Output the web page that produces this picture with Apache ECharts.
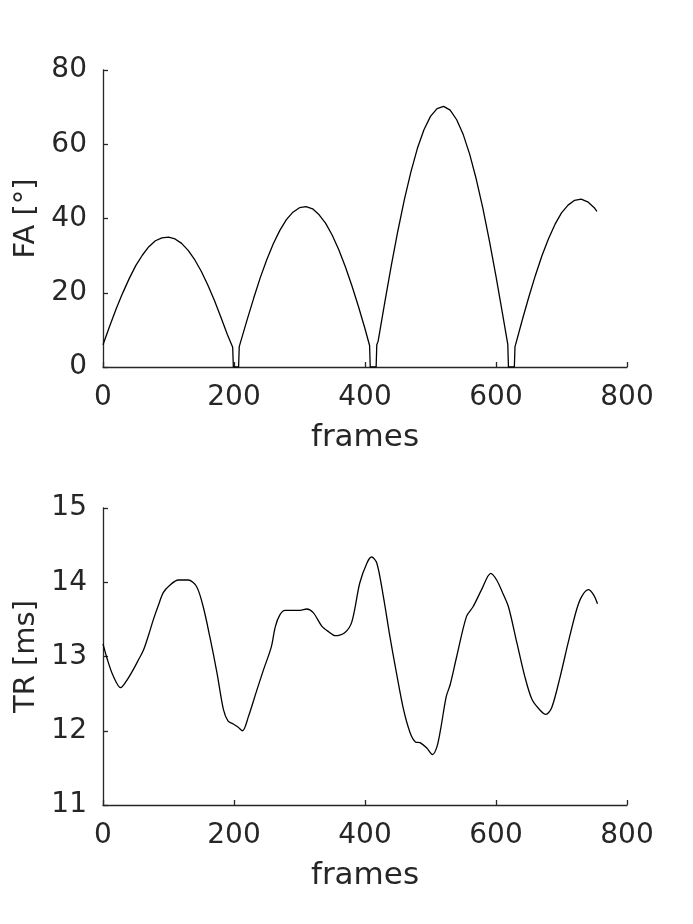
<!DOCTYPE html>
<html>
<head>
<meta charset="utf-8">
<script src="https://cdn.jsdelivr.net/npm/echarts@6/dist/echarts.min.js"></script>
<style>
html,body{margin:0;padding:0;background:#fff;}
#c{width:693px;height:924px;}
</style>
</head>
<body>
<div id="c"></div>
<script>
// ---- Data ----
var faFrames = [0,10,20,30,40,50,60,70,80,90,100,110,120,130,140,150,160,170,180,190,198,199,207,
  208,210,220,230,240,250,260,270,280,290,300,310,320,330,340,350,360,370,380,390,400,407,408,417,
  418,420,430,440,450,460,470,480,490,500,510,520,530,540,550,560,570,580,590,600,610,618,619,628,
  629,630,640,650,660,670,680,690,700,710,720,730,740,750,754];
var faValues = [6.0,10.9,15.6,19.9,23.8,27.3,30.1,32.4,34.0,34.8,35.0,34.5,33.3,31.4,28.9,25.8,22.1,18.0,13.4,8.7,5.3,0,0,
  5.5,6.7,12.7,18.5,24.0,28.9,33.2,36.8,39.7,41.7,42.9,43.2,42.6,41.0,38.7,35.5,31.6,27.0,21.9,16.3,10.3,5.8,0,0,
  6.0,6.9,17.2,27.2,36.5,45.0,52.5,58.9,63.9,67.5,69.6,70.2,69.2,66.6,62.6,57.2,50.5,42.7,33.9,24.4,14.3,6.1,0,0,
  5.5,6.1,12.6,18.8,24.6,29.9,34.5,38.4,41.5,43.6,44.9,45.2,44.5,42.9,41.9];

var trFrames = [0,6,15,27,35,46,55,62,70,77,85,92,102,115,130,143,153,163,174,184,191,199,206,213,222,235,245,257,263,270,278,290,
  301,311,321,334,345,354,369,380,392,403,410,418,428,438,448,459,469,477,484,494,503,510,516,524,530,540,555,565,578,592,
  601,610,619,632,644,655,667,676,685,698,710,723,731,741,749,755];
var trValues = [13.17,12.98,12.75,12.58,12.66,12.82,12.97,13.09,13.30,13.50,13.70,13.86,13.96,14.03,14.03,13.94,13.67,13.27,12.78,12.28,12.13,12.09,12.05,12.00,12.19,12.55,12.82,13.13,13.40,13.56,13.62,13.62,
  13.62,13.64,13.59,13.41,13.33,13.28,13.32,13.47,13.99,14.26,14.34,14.26,13.81,13.27,12.78,12.28,11.97,11.85,11.84,11.77,11.68,11.79,12.05,12.46,12.62,13.00,13.54,13.67,13.90,14.12,
  14.03,13.86,13.67,13.18,12.73,12.42,12.28,12.22,12.31,12.73,13.18,13.63,13.81,13.90,13.83,13.71];

var xTicks = {min:0, max:800, interval:200};
var faTicks = {min:0, max:80, interval:20};
var trTicks = {min:11, max:15, interval:1};
var xName = 'frames';
var faName = 'FA [°]';
var trName = 'TR [ms]';

function pairs(xs, ys){ var o=[]; for(var i=0;i<xs.length;i++){o.push([xs[i],ys[i]]);} return o; }

var txt = '#262626';
var font = 'DejaVu Sans';
function xAxis(gi){
  return {
    type:'value', gridIndex:gi, min:xTicks.min, max:xTicks.max, interval:xTicks.interval,
    name:xName, nameLocation:'middle', nameGap:55,
    nameTextStyle:{color:txt, fontSize:31, fontFamily:font},
    axisLine:{show:true, onZero:false, lineStyle:{color:txt, width:1.3}},
    axisTick:{show:true, inside:true, length:5, lineStyle:{color:txt, width:1.3}},
    axisLabel:{color:txt, fontSize:28, fontFamily:font, margin:17},
    splitLine:{show:false}
  };
}
function yAxis(gi, t, name){
  return {
    type:'value', gridIndex:gi, min:t.min, max:t.max, interval:t.interval,
    name:name, nameLocation:'middle', nameGap:62, nameRotate:90,
    nameTextStyle:{color:txt, fontSize:29, fontFamily:font},
    axisLine:{show:true, onZero:false, lineStyle:{color:txt, width:1.3}},
    axisTick:{show:true, inside:true, length:5, lineStyle:{color:txt, width:1.3}},
    axisLabel:{color:txt, fontSize:28, fontFamily:font, margin:16},
    splitLine:{show:false}
  };
}

var chart = echarts.init(document.getElementById('c'), null, {renderer:'canvas'});
chart.setOption({
  backgroundColor:'#ffffff',
  animation:false,
  grid:[
    {left:103, top:70, width:524, height:297},
    {left:103, top:508, width:524, height:297}
  ],
  xAxis:[xAxis(0), xAxis(1)],
  yAxis:[yAxis(0, faTicks, faName), yAxis(1, trTicks, trName)],
  series:[
    {type:'line', xAxisIndex:0, yAxisIndex:0, data:pairs(faFrames, faValues), showSymbol:false,
     lineStyle:{color:'#000', width:1.3}, clip:true},
    {type:'line', xAxisIndex:1, yAxisIndex:1, data:pairs(trFrames, trValues), showSymbol:false, smooth:0.3,
     lineStyle:{color:'#000', width:1.3}, clip:true}
  ]
});
</script>
</body>
</html>
